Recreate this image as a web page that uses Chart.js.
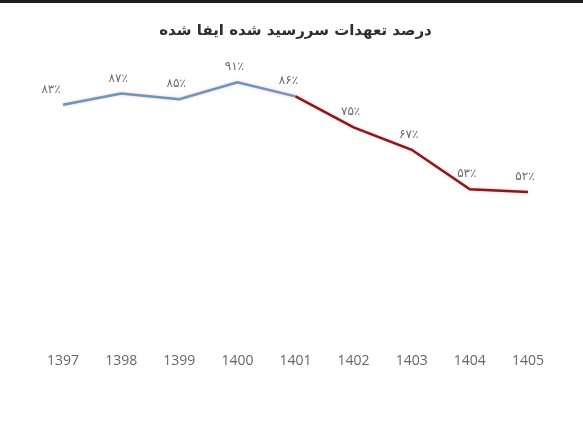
<!DOCTYPE html>
<html>
<head>
<meta charset="utf-8">
<script src="https://cdn.jsdelivr.net/npm/chart.js@4.4.0/dist/chart.umd.min.js"></script>
<style>
    html, body { margin: 0; padding: 0; background: #fff; }
    #wrap { width: 583px; height: 421px; position: relative; }
    #topbar { position: absolute; left: 0; top: 0; width: 583px; height: 3px; background: #1e1e1e; }
</style>
</head>
<body>
<div id="wrap">
    <canvas id="chart" width="583" height="421"></canvas>
    <div id="topbar"></div>
</div>
<script>
const years = ['1397', '1398', '1399', '1400', '1401', '1402', '1403', '1404', '1405'];
const fulfilled = [83, 87, 85, 91, 86, 75, 67, 53, 52];
const pointLabels = ['۸۳٪', '۸۷٪', '۸۵٪', '۹۱٪', '۸۶٪', '۷۵٪', '۶۷٪', '۵۳٪', '۵۲٪'];
const chartTitle = 'درصد تعهدات سررسید شده ایفا شده';

const BLUE = '#6897c0';
const RED = '#861a1a';
const SPLIT = 4; // from 1401 onward the line turns red

// draws the persian percent labels above each point
const valueLabels = {
    id: 'valueLabels',
    afterDatasetsDraw(chart) {
        const ctx = chart.ctx;
        const meta = chart.getDatasetMeta(0);
        ctx.save();
        ctx.font = '12px "DejaVu Sans"';
        ctx.fillStyle = '#6b6b6b';
        ctx.textAlign = 'center';
        ctx.textBaseline = 'bottom';
        ctx.direction = 'ltr';
        meta.data.forEach((pt, i) => {
            const dx = i === 0 ? -12 : (i === SPLIT ? -7 : -3);
            ctx.fillText(pointLabels[i], pt.x + dx, pt.y - 9);
        });
        ctx.restore();
    }
};

const lineGlow = {
    id: 'lineGlow',
    beforeDatasetsDraw(chart) {
        chart.ctx.save();
        chart.ctx.shadowColor = 'rgba(240,140,140,0.55)';
        chart.ctx.shadowBlur = 3;
    },
    afterDatasetsDraw(chart) {
        chart.ctx.restore();
    }
};

new Chart(document.getElementById('chart').getContext('2d'), {
    type: 'line',
    data: {
        labels: years,
        datasets: [{
            data: fulfilled,
            borderWidth: 2.5,
            borderColor: BLUE,
            pointRadius: 0,
            tension: 0,
            segment: {
                borderColor: ctx => ctx.p0DataIndex >= SPLIT ? RED : BLUE
            }
        }]
    },
    options: {
        responsive: false,
        animation: false,
        layout: {
            padding: { left: 34, right: 26, top: 0, bottom: 38 }
        },
        plugins: {
            legend: { display: false },
            tooltip: { enabled: false },
            title: {
                display: true,
                text: chartTitle,
                color: '#2e2e2e',
                font: { family: '"DejaVu Sans"', size: 15, weight: 'bold' },
                padding: { top: 22, bottom: 17 }
            }
        },
        scales: {
            x: {
                offset: true,
                grid: { display: false, drawTicks: false },
                border: { display: false },
                ticks: {
                    color: '#666',
                    padding: 14,
                    font: { family: '"Open Sans"', size: 14 }
                }
            },
            y: {
                display: false,
                min: 0,
                max: 100
            }
        }
    },
    plugins: [lineGlow, valueLabels]
});
</script>
</body>
</html>
